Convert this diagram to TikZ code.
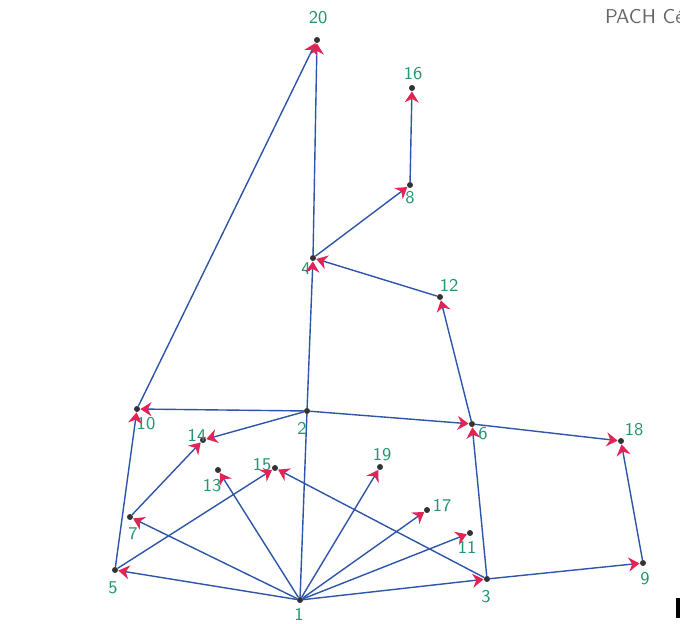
\documentclass[tikz,border=0pt]{standalone}
\usetikzlibrary{arrows.meta}
\definecolor{penblue}{RGB}{45,85,170}
\definecolor{penred}{RGB}{225,35,85}
\definecolor{pengreen}{RGB}{35,150,115}
\tikzset{
  every picture/.style={line join=round, line cap=round},
  vertex/.style={circle, fill=black!80, inner sep=0pt, minimum size=3pt},
  lab/.style={text=pengreen, font=\small\sffamily, inner sep=0pt},
  link/.style={draw=penblue, line width=0.7pt},
  dirlink/.style={link, -{Stealth[penred, length=5.5pt, width=7pt]}},
}

\begin{document}
\begin{tikzpicture}[x=0.5pt,y=-0.5pt]
\fill[white] (0,0) rectangle (680,624);
\useasboundingbox (0,0) rectangle (680,624);
% vertices and their numbers
\foreach \n/\x/\y/\lx/\ly in {1/300/600/299/614, 2/307/411/302/428, 3/487/579/486/597,
  4/313/258/306/269, 5/115/570/113/588, 6/472/424/483/434, 7/130/517/133/534,
  8/410/185/410/198, 9/643/563/645/579, 10/137/409/146/424, 11/470/533/467/547,
  12/440/297/449/285, 13/218/470/212/486, 14/203/440/197/435, 15/275/468/262/465,
  16/412/88/413/74, 17/427/510/442/506, 18/621/441/634/430, 19/380/467/382/455,
  20/317/40/318/18}{
  \node[vertex] (n\n) at (\x,\y) {};
  \node[lab] (l\n) at (\lx,\ly) {\n};
}
\node[anchor=west, text=black!60, font=\sffamily] (note) at (598,17) {PACH Cé};
\fill[black] (676,598) rectangle (680,618);
% connectors
\draw[link] (n1) -- (n2);
\foreach \a/\b in {2/4, 12/4, 4/8, 8/16, 4/20, 10/20, 2/10, 5/10, 2/14, 7/14,
  1/13, 5/15, 3/15, 1/19, 1/17, 1/11, 2/6, 3/6, 6/12, 6/18, 9/18, 3/9,
  1/3, 1/7, 1/5}
  \draw[dirlink] (n\a) -- (n\b);
\end{tikzpicture}
\end{document}
